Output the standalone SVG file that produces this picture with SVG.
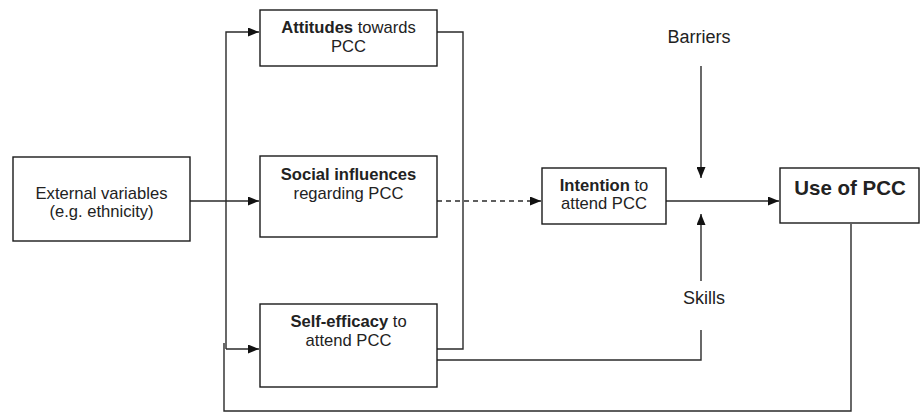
<svg xmlns="http://www.w3.org/2000/svg" width="921" height="412" viewBox="0 0 921 412">
  <style>
    .box { fill: #ffffff; stroke: #1a1a1a; stroke-width: 1.4; }
    .line { fill: none; stroke: #2a2a2a; stroke-width: 1.4; }
    .dash { stroke-dasharray: 5 4; }
    text { font-family: "Liberation Sans", Arial, sans-serif; font-size: 16.6px; fill: #222222; text-anchor: middle; }
    .b { font-weight: bold; }
    .big { font-size: 20.5px; font-weight: bold; }
    .side { font-size: 18px; }
  </style>
  <defs>
    <marker id="arrow" viewBox="0 0 11 9" refX="11" refY="4.5" markerWidth="11" markerHeight="9" markerUnits="userSpaceOnUse" orient="auto">
      <path d="M0,0 L11,4.5 L0,9 Z" fill="#111111"/>
    </marker>
  </defs>
  <rect width="921" height="412" fill="#ffffff"/>

  <g id="connectors">
    <!-- external variables to the three determinants -->
    <line class="line" x1="190" y1="201" x2="259" y2="201" marker-end="url(#arrow)"/>
    <polyline class="line" points="226,349 226,32 259,32" marker-end="url(#arrow)"/>
    <line class="line" x1="226" y1="349" x2="259" y2="349" marker-end="url(#arrow)"/>
    <!-- bracket joining attitudes and self-efficacy -->
    <polyline class="line" points="437,32 463,32 463,349 437,349"/>
    <!-- determinants to intention -->
    <line class="line dash" x1="437" y1="201" x2="541" y2="201" marker-end="url(#arrow)"/>
    <!-- intention to use -->
    <line class="line" x1="666" y1="201" x2="779" y2="201" marker-end="url(#arrow)"/>
    <!-- barriers -->
    <line class="line" x1="701" y1="66" x2="701" y2="178" marker-end="url(#arrow)"/>
    <!-- skills -->
    <line class="line" x1="701" y1="281" x2="701" y2="214" marker-end="url(#arrow)"/>
    <polyline class="line" points="437,360 701,360 701,330"/>
    <!-- feedback from use -->
    <polyline class="line" points="851,224 851,411 224,411 224,343"/>
  </g>

  <g id="external">
    <rect class="box" x="13" y="157" width="177" height="84"/>
    <text x="101.5" y="199">External variables</text>
    <text x="101.5" y="217">(e.g. ethnicity)</text>
  </g>

  <g id="attitudes">
    <rect class="box" x="260" y="10" width="177" height="56"/>
    <text x="348.5" y="33"><tspan class="b">Attitudes</tspan> towards</text>
    <text x="348.5" y="52">PCC</text>
  </g>

  <g id="social">
    <rect class="box" x="260" y="156" width="177" height="81"/>
    <text x="348.5" y="180" class="b">Social influences</text>
    <text x="348.5" y="199">regarding PCC</text>
  </g>

  <g id="selfefficacy">
    <rect class="box" x="260" y="304" width="177" height="83"/>
    <text x="348.5" y="327"><tspan class="b">Self-efficacy</tspan> to</text>
    <text x="348.5" y="346">attend PCC</text>
  </g>

  <g id="intention">
    <rect class="box" x="542" y="168" width="124" height="56"/>
    <text x="604" y="191"><tspan class="b">Intention</tspan> to</text>
    <text x="604" y="209">attend PCC</text>
  </g>

  <g id="use">
    <rect class="box" x="780" y="168" width="139" height="55"/>
    <text x="850" y="195" class="big">Use of PCC</text>
  </g>

  <g id="barriers">
    <text x="699" y="43" class="side">Barriers</text>
  </g>

  <g id="skills">
    <text x="704" y="304" class="side">Skills</text>
  </g>
</svg>
